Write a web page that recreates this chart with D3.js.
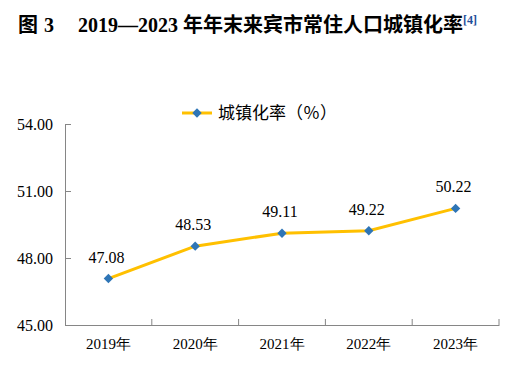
<!DOCTYPE html>
<html><head><meta charset="utf-8">
<script src="https://cdn.jsdelivr.net/npm/d3@7"></script>
<style>body{margin:0;background:#fff;}svg{display:block;}</style>
</head><body>
<svg id="c" width="522" height="367"></svg>
<script>
const categories = ["2019年","2020年","2021年","2022年","2023年"];
const values = [47.08, 48.53, 49.11, 49.22, 50.22];
const yTicks = [45, 48, 51, 54];
const seriesName = "城镇化率（％）";

const svg = d3.select("#c");
const SERIF = '"Liberation Serif", "Times New Roman", "DejaVu Serif", serif';
const CJK = '"Noto Sans CJK SC", "Noto Sans", sans-serif';

// Title
const t = svg.append("text").attr("x", 18).attr("y", 32)
  .style("font-weight", "bold").style("font-size", "20px").attr("fill", "#000");
t.append("tspan").style("font-family", CJK).text("图");
t.append("tspan").style("font-family", SERIF).attr("dx", 6).text("3");
t.append("tspan").style("font-family", SERIF).attr("dx", 24).text("2019—2023");
t.append("tspan").style("font-family", CJK).attr("dx", 5).text("年年末来宾市常住人口城镇化率");
t.append("tspan").style("font-family", SERIF).style("font-size", "12px").attr("dy", -8).attr("fill", "#1f4e9a").text("[4]");

const x = d3.scaleBand().domain(categories).range([65, 499]);
const y = d3.scaleLinear().domain([45, 54]).range([325, 124]);
const axisColor = "#868686";

// Y axis
const ya = svg.append("g").attr("transform", "translate(65,0)")
  .call(d3.axisLeft(y).tickValues(yTicks).tickFormat(d3.format(".2f")).tickSizeInner(-6).tickSizeOuter(0).tickPadding(12));
ya.select(".domain").attr("stroke", axisColor);
ya.selectAll(".tick line").attr("stroke", axisColor);
ya.selectAll(".tick text").style("font-family", SERIF).style("font-size", "16px").attr("fill", "#000");

// X axis
const xa = svg.append("g").attr("transform", "translate(0,325)")
  .call(d3.axisBottom(x).tickSize(0).tickPadding(13));
xa.select(".domain").attr("stroke", axisColor);
xa.selectAll(".tick text").style("font-family", SERIF).style("font-size", "15px").attr("fill", "#000");
const bounds = categories.slice(1).map(c => x(c)).concat([x.range()[1]]);
svg.append("g").selectAll("line").data(bounds).join("line")
  .attr("x1", d => d).attr("x2", d => d).attr("y1", 325).attr("y2", 319)
  .attr("stroke", axisColor);

const cx = d => x(d) + x.bandwidth() / 2;
const lineColor = "#FFC000";
const markerColor = "#2E75B6";

svg.append("path").datum(values)
  .attr("d", d3.line().x((d, i) => cx(categories[i])).y(d => y(d)))
  .attr("fill", "none").attr("stroke", lineColor).attr("stroke-width", 3);

svg.append("g").selectAll("path").data(values).join("path")
  .attr("d", d3.symbol().type(d3.symbolSquare).size(44))
  .attr("transform", (d, i) => `translate(${cx(categories[i])},${y(d)}) rotate(45)`)
  .attr("fill", markerColor);

svg.append("g").selectAll("text").data(values).join("text")
  .style("font-family", SERIF).style("font-size", "16px")
  .attr("x", (d, i) => cx(categories[i]) - 2).attr("y", d => y(d) - 16)
  .attr("text-anchor", "middle").attr("fill", "#000")
  .text(d => d.toFixed(2));

// Legend
const lg = svg.append("g");
lg.append("line").attr("x1", 182).attr("x2", 212).attr("y1", 113).attr("y2", 113)
  .attr("stroke", lineColor).attr("stroke-width", 3);
lg.append("path").attr("d", d3.symbol().type(d3.symbolSquare).size(44))
  .attr("transform", "translate(197,113) rotate(45)").attr("fill", markerColor);
lg.append("text").style("font-family", CJK).style("font-size", "17px").attr("x", 218).attr("y", 119)
  .attr("fill", "#000").text(seriesName);
</script>
</body></html>
